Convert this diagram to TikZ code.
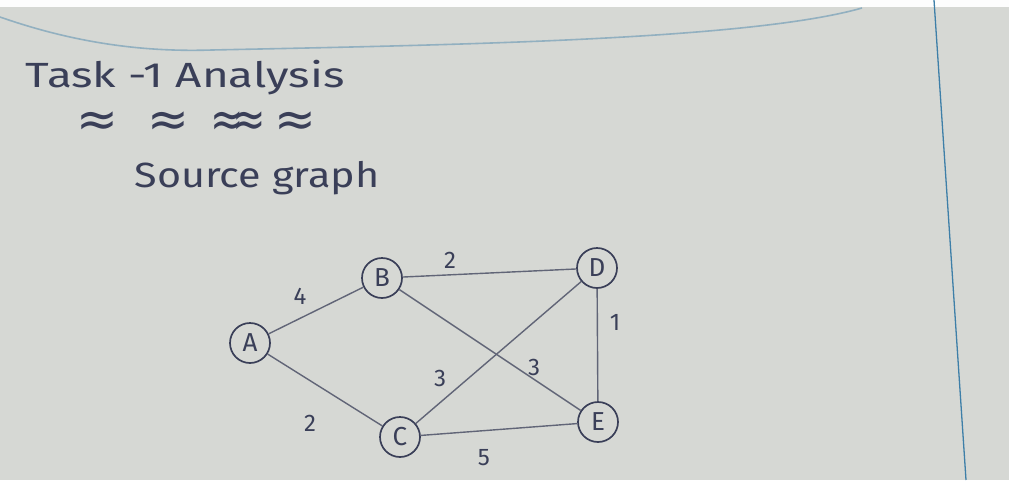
\documentclass[tikz,border=0pt]{standalone}
\usepackage{fontspec}
\setmainfont{Fira Sans}
\newfontfamily\symf{DejaVu Sans}
\definecolor{inkc}{HTML}{3A3F58}
\definecolor{paper}{HTML}{D6D8D4}
\definecolor{margin}{HTML}{3E7FA8}
\begin{document}
\begin{tikzpicture}[x=1pt,y=-1pt,
  vertex/.style={circle, draw=inkc, line width=1.7pt, minimum size=40pt, inner sep=0pt,
    font=\fontsize{26}{26}\selectfont, text=inkc},
  wlabel/.style={font=\fontsize{24}{24}\selectfont, text=inkc},
  title/.style={font=\fontsize{35}{35}\selectfont, text=inkc},
  squig/.style={font=\symf\fontsize{50}{50}\selectfont, text=inkc, inner sep=0pt,
    text height=24pt, text depth=0pt, anchor=base},
  edge/.style={draw=inkc!75!paper, line width=1.4pt}]
\useasboundingbox (0,0) rectangle (1009,480);
\fill[paper] (0,0) rectangle (1009,480);
\fill[white!95!paper] (0,0) rectangle (1009,7);
\draw[margin!45!paper, line width=1.6pt] (0,17) .. controls (80,45) and (150,52) .. (212,50) .. controls (450,45) and (750,40) .. (862,8);
\draw[margin, line width=1.3pt] (934,0) -- (966,480);
% texts
\node[title, xscale=1.31] (t1) at (185,78) {Task -1 Analysis};
\node[squig] (s1) at (97,136) {≈};
\node[squig] (s2) at (168,136) {≈};
\node[squig, xscale=0.8] (s3) at (238,136) {≈\kern-14pt≈};
\node[squig] (s4) at (295,136) {≈};
\node[title, xscale=1.18] (t2) at (257,178) {Source graph};
% vertices
\node[vertex] (A) at (250,343) {A};
\node[vertex] (B) at (382,278) {B};
\node[vertex] (D) at (597,268) {D};
\node[vertex] (C) at (400,437) {C};
\node[vertex] (E) at (598,422) {E};
% edges
\draw[edge] (A) -- (B);
\draw[edge] (A) -- (C);
\draw[edge] (B) -- (D);
\draw[edge] (B) -- (E);
\draw[edge] (C) -- (D);
\draw[edge] (C) -- (E);
\draw[edge] (D) -- (E);
% weights
\node[wlabel] (wAB) at (300,296) {4};
\node[wlabel] (wBD) at (450,260) {2};
\node[wlabel] (wDE) at (615,322) {1};
\node[wlabel] (wCD) at (440,378) {3};
\node[wlabel] (wBE) at (534,367) {3};
\node[wlabel] (wAC) at (310,423) {2};
\node[wlabel] (wCE) at (484,458) {5};
\end{tikzpicture}
\end{document}
